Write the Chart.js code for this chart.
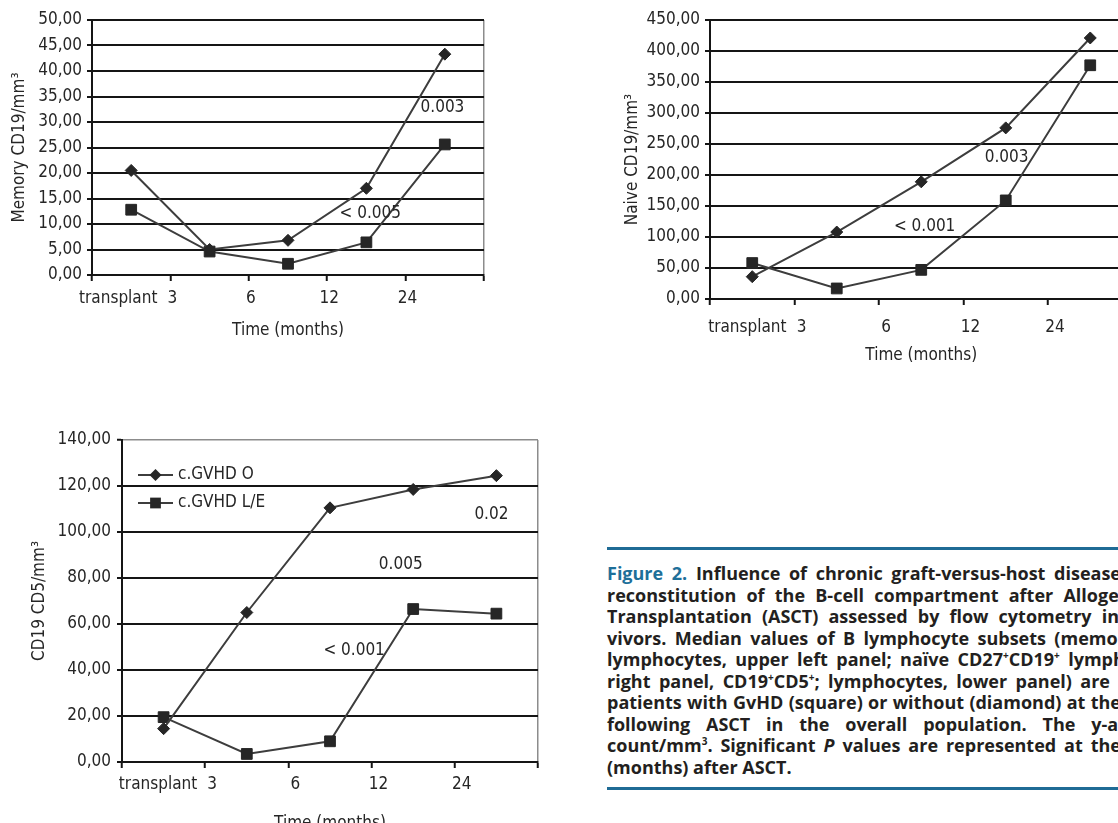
<!DOCTYPE html>
<html><head><meta charset="utf-8">
<script src="https://cdn.jsdelivr.net/npm/chart.js@4.4.1/dist/chart.umd.min.js"></script>
<style>
html,body{margin:0;padding:0;width:1118px;height:823px;overflow:hidden;background:#fff;}
canvas{position:absolute;}
#c1{left:0;top:0}
#c2{left:600px;top:0}
#c3{left:0;top:420px}
.rule{position:absolute;left:607px;width:530px;height:3px;background:#1f6b95}
#cap{position:absolute;left:607px;top:563px;font-family:"Open Sans",sans-serif;font-weight:700;font-size:18px;line-height:21.5px;color:#231f20}
.ln{white-space:nowrap;text-align:justify;text-align-last:justify;height:21.5px}
.ln0{white-space:nowrap;text-align:left}
.fig{color:#1e6f99}
sup{font-size:10px;line-height:0;vertical-align:7px}
</style>
</head><body>
<canvas id="c1" width="500" height="345"></canvas>
<canvas id="c2" width="560" height="370"></canvas>
<canvas id="c3" width="560" height="418"></canvas>
<div class="rule" style="top:547px"></div>
<div id="cap">
<div class="ln" style="width:514px"><span class="fig">Figure 2.</span> Influence of chronic graft-versus-host disease</div>
<div class="ln" style="width:549px">reconstitution of the B-cell compartment after Allogeneic</div>
<div class="ln" style="width:512px">Transplantation (ASCT) assessed by flow cytometry in</div>
<div class="ln" style="width:529px">vivors. Median values of B lymphocyte subsets (memory</div>
<div class="ln" style="width:581px">lymphocytes, upper left panel; naïve CD27<sup>+</sup>CD19<sup>+</sup> lymphocytes,</div>
<div class="ln" style="width:503px">right panel, CD19<sup>+</sup>CD5<sup>+</sup>; lymphocytes, lower panel) are</div>
<div class="ln" style="width:514px">patients with GvHD (square) or without (diamond) at the</div>
<div class="ln" style="width:536px">following ASCT in the overall population. The y-axis</div>
<div class="ln" style="width:514px">count/mm<sup>3</sup>. Significant <i>P</i> values are represented at the</div>
<div class="ln0">(months) after ASCT.</div>
</div>
<div class="rule" style="top:787px"></div>
<script>
// ---- data ----
const timeLabels = ["transplant", "3", "6", "12", "24"];
const xTickLabels = ["", "3", "6", "12", "24", ""];
const seriesNames = ["c.GVHD O", "c.GVHD L/E"];

const memoryNoGvhd = [20.5, 5.0, 6.8, 17.0, 43.3];
const memoryGvhd   = [12.8, 4.6, 2.2, 6.4, 25.6];
const naiveNoGvhd  = [36, 108, 189, 276, 421];
const naiveGvhd    = [58, 17, 47, 159, 377];
const cd5NoGvhd    = [14.5, 65, 110.5, 118.5, 124.5];
const cd5Gvhd      = [19.5, 3.5, 9, 66.5, 64.5];

// p-value annotations (text, and anchor in data units [time slot, value])
const memoryPText = ["0.003", "< 0.005"];
const memoryPAt   = [[4.47, 32.9], [3.55, 12.0]];
const naivePText  = ["0.003", "< 0.001"];
const naivePAt    = [[3.51, 228], [2.54, 116.5]];
const cd5PText    = ["0.02", "0.005", "< 0.001"];
const cd5PAt      = [[4.44, 107.5], [3.35, 86], [2.79, 48.5]];

// ---- drawing ----
const FONT = '"DejaVu Sans Condensed", "DejaVu Sans", sans-serif';
const FS = 17;
const FONTOBJ = {family: FONT, size: FS, weight: 'condensed'};
const TEXT = '#262626';
const GRID = '#151515';
const LINE = '#3d3d3d';
const MARK = '#262626';

function diamond(ctx, x, y, r){ ctx.beginPath(); ctx.moveTo(x-r,y); ctx.lineTo(x,y-r); ctx.lineTo(x+r,y); ctx.lineTo(x,y+r); ctx.closePath(); ctx.fill(); }
function square(ctx, x, y, r){ const s=r*Math.SQRT1_2; ctx.fillRect(x-s,y-s,2*s,2*s); }

function makePanel(id, cfg){
  const pts = vals => vals.map((v,i)=>({x:i+0.5, y:v}));
  const extras = {
    id: 'extras',
    afterDatasetsDraw(chart){
      const {ctx, scales:{x, y}, chartArea} = chart;
      ctx.save();
      ctx.font = 'condensed ' + FS + 'px ' + FONT;
      ctx.fillStyle = TEXT;
      ctx.textBaseline = 'middle';
      ctx.textAlign = 'center';
      cfg.pText.forEach((t,i)=>ctx.fillText(t, x.getPixelForValue(cfg.pAt[i][0]), y.getPixelForValue(cfg.pAt[i][1])));
      const ly = x.top + 6 + cfg.xPad + FS*1.2/2;
      ctx.textAlign = 'right';
      ctx.fillText(timeLabels[0], x.getPixelForValue(1) + cfg.labelOffset - 15, ly);
      if (cfg.legend){
        chart.data.datasets.forEach((ds,i)=>{
          const yy = chartArea.top + 35 + i*28;
          const x0 = chartArea.left + 16, x1 = x0 + 35;
          ctx.strokeStyle = LINE; ctx.lineWidth = 2;
          ctx.beginPath(); ctx.moveTo(x0,yy); ctx.lineTo(x1,yy); ctx.stroke();
          ctx.fillStyle = MARK;
          if (ds.pointStyle === 'rectRot') diamond(ctx,(x0+x1)/2,yy,ds.pointRadius); else square(ctx,(x0+x1)/2,yy,ds.pointRadius);
          ctx.fillStyle = TEXT; ctx.textAlign = 'left';
          ctx.fillText(ds.label, x1 + 5, yy);
        });
      }
      ctx.restore();
    }
  };
  const ds = (label, vals, style, r) => ({
    label, data: pts(vals), pointStyle: style, pointRadius: r,
    borderColor: LINE, borderWidth: 2, pointBackgroundColor: MARK,
    pointBorderColor: MARK, pointBorderWidth: 1, tension: 0, fill: false
  });
  return new Chart(document.getElementById(id), {
    type: 'line',
    data: { datasets: [ ds(seriesNames[0], cfg.a, 'rectRot', 6), ds(seriesNames[1], cfg.b, 'rect', 7.6) ] },
    options: {
      responsive: false, animation: false, devicePixelRatio: 1,
      layout: { padding: cfg.pad },
      plugins: { legend: {display:false}, tooltip: {enabled:false} },
      scales: {
        x: {
          type: 'linear', min: 0, max: 5,
          afterFit: s => { s.height = cfg.xH; },
          border: { display: true, color: GRID, width: 2 },
          grid: {
            drawOnChartArea: true, drawTicks: true, tickLength: 6,
            color: c => (c.tick && c.tick.value === 5) ? '#8c8c8c' : 'rgba(0,0,0,0)',
            lineWidth: 1.5, tickColor: GRID, tickWidth: 2
          },
          ticks: {
            stepSize: 1, autoSkip: false, maxRotation: 0, padding: cfg.xPad,
            labelOffset: cfg.labelOffset, color: TEXT, font: FONTOBJ,
            callback: v => xTickLabels[v] ?? ''
          },
          title: { display: true, text: 'Time (months)', color: TEXT, font: FONTOBJ, padding: {top: 0, bottom: 4} }
        },
        y: {
          min: 0, max: cfg.max,
          afterFit: s => { s.width = cfg.yW; },
          border: { display: true, color: GRID, width: 2 },
          grid: {
            color: c => (c.tick && c.tick.value === cfg.max && cfg.thinTop) ? '#8c8c8c' : GRID,
            lineWidth: c => (c.tick && c.tick.value === cfg.max && cfg.thinTop) ? 1.5 : 2,
            tickLength: 5, tickColor: GRID, tickWidth: 2
          },
          ticks: {
            stepSize: cfg.step, autoSkip: false, padding: cfg.yPad, color: TEXT, font: FONTOBJ,
            callback: v => v.toFixed(2).replace('.', ',')
          },
          title: { display: true, text: cfg.yTitle, color: TEXT, font: FONTOBJ, padding: {top: cfg.yTitlePad, bottom: 0} }
        }
      }
    },
    plugins: [extras]
  });
}

makePanel('c1', { a: memoryNoGvhd, b: memoryGvhd, max: 50, step: 5, yTitle: 'Memory CD19/mm³',
  pad: {left: 0, top: 20, right: 16, bottom: 0}, yW: 92, xH: 70, xPad: 7.8, yPad: 5, labelOffset: 2, yTitlePad: 9.8,
  pText: memoryPText, pAt: memoryPAt });
makePanel('c2', { a: naiveNoGvhd, b: naiveGvhd, max: 450, step: 50, yTitle: 'Naive CD19/mm³',
  pad: {left: 20, top: 20, right: 27.5, bottom: 0}, yW: 90, xH: 71, xPad: 12.8, yPad: 5, labelOffset: 7, yTitlePad: 2.8,
  pText: naivePText, pAt: naivePAt });
makePanel('c3', { a: cd5NoGvhd, b: cd5Gvhd, max: 140, step: 20, yTitle: 'CD19 CD5/mm³', thinTop: true, legend: true,
  pad: {left: 0, top: 20, right: 22, bottom: 0}, yW: 122, xH: 76, xPad: 6.8, yPad: 6, labelOffset: 7, yTitlePad: 29.8,
  pText: cd5PText, pAt: cd5PAt });
</script>
</body></html>
